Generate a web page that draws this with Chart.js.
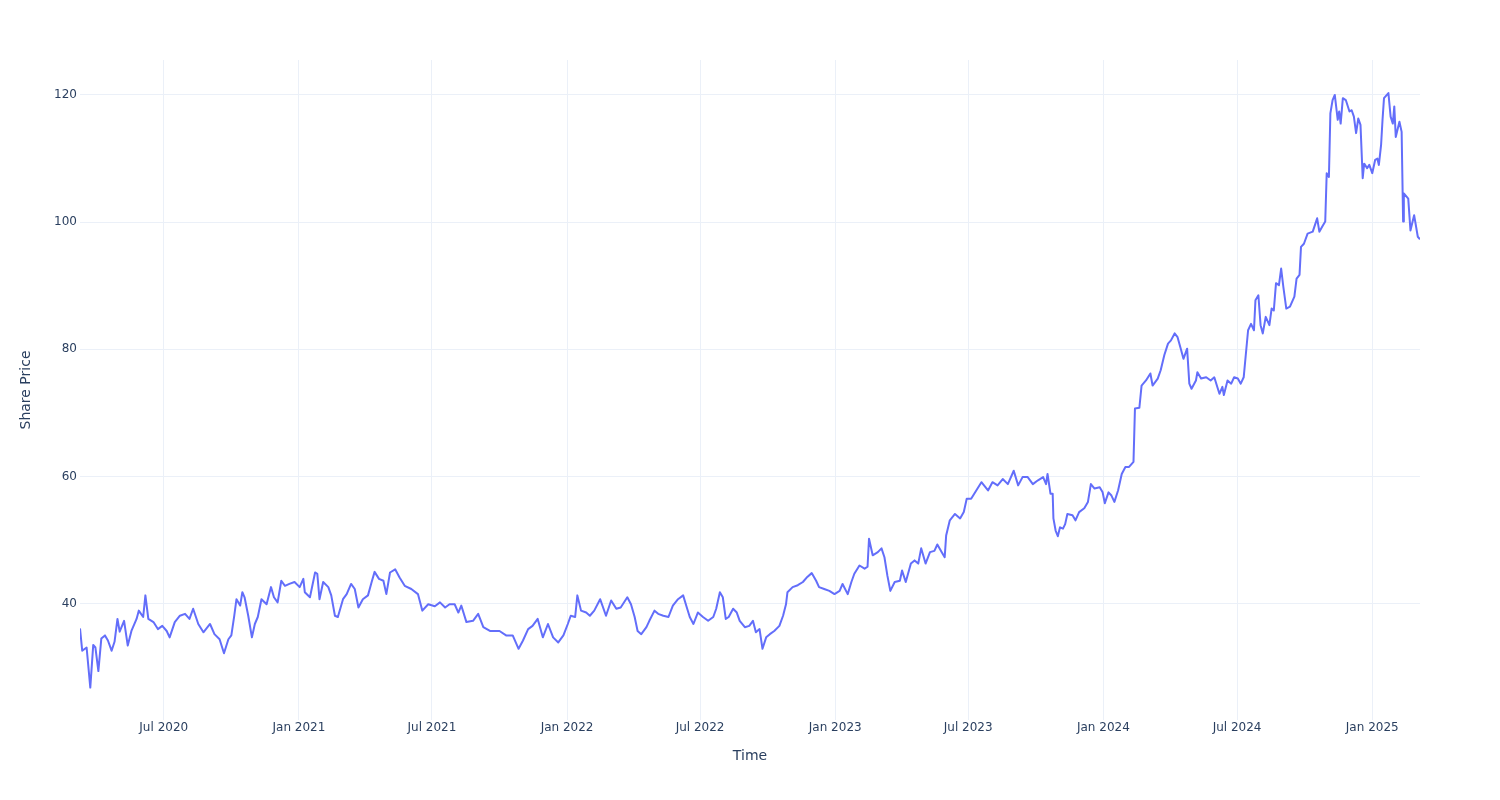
<!DOCTYPE html>
<html>
<head>
<meta charset="utf-8">
<title>Share Price</title>
<script src="https://cdn.jsdelivr.net/npm/chart.js@4.4.1/dist/chart.umd.min.js"></script>
<style>
  html, body { margin: 0; padding: 0; background: #fff; }
  #wrap { width: 1500px; height: 800px; }
</style>
</head>
<body>
<div id="wrap"><canvas id="priceChart" width="1500" height="800"></canvas></div>
<script>
// values
const dates = [
  '2020-03-09','2020-03-12','2020-03-18','2020-03-23','2020-03-27','2020-03-30','2020-04-03','2020-04-07','2020-04-12','2020-04-16',
  '2020-04-21','2020-04-25','2020-04-29','2020-05-02','2020-05-08','2020-05-13','2020-05-18','2020-05-25','2020-05-28','2020-06-03',
  '2020-06-06','2020-06-10','2020-06-17','2020-06-23','2020-06-29','2020-07-05','2020-07-09','2020-07-16','2020-07-23','2020-07-30',
  '2020-08-05','2020-08-10','2020-08-17','2020-08-24','2020-09-02','2020-09-08','2020-09-15','2020-09-21','2020-09-27','2020-10-01',
  '2020-10-05','2020-10-08','2020-10-13','2020-10-16','2020-10-19','2020-10-24','2020-10-29','2020-11-02','2020-11-06','2020-11-11',
  '2020-11-18','2020-11-24','2020-11-28','2020-12-03','2020-12-08','2020-12-13','2020-12-19','2020-12-26','2021-01-02','2021-01-07',
  '2021-01-09','2021-01-16','2021-01-23','2021-01-26','2021-01-29','2021-02-03','2021-02-10','2021-02-14','2021-02-19','2021-02-23',
  '2021-03-02','2021-03-07','2021-03-13','2021-03-18','2021-03-23','2021-03-29','2021-04-05','2021-04-10','2021-04-14','2021-04-20',
  '2021-04-26','2021-04-30','2021-05-05','2021-05-12','2021-05-18','2021-05-25','2021-06-03','2021-06-12','2021-06-18','2021-06-26',
  '2021-07-05','2021-07-12','2021-07-19','2021-07-25','2021-08-01','2021-08-06','2021-08-10','2021-08-17','2021-08-26','2021-09-02',
  '2021-09-09','2021-09-18','2021-09-25','2021-10-01','2021-10-10','2021-10-19','2021-10-27','2021-11-02','2021-11-09','2021-11-15',
  '2021-11-22','2021-11-29','2021-12-06','2021-12-13','2021-12-20','2021-12-27','2022-01-02','2022-01-06','2022-01-12','2022-01-15',
  '2022-01-20','2022-01-27','2022-02-01','2022-02-07','2022-02-15','2022-02-23','2022-03-02','2022-03-09','2022-03-15','2022-03-24',
  '2022-03-29','2022-04-03','2022-04-07','2022-04-12','2022-04-19','2022-04-23','2022-04-30','2022-05-05','2022-05-12','2022-05-19',
  '2022-05-25','2022-06-01','2022-06-08','2022-06-13','2022-06-17','2022-06-22','2022-06-28','2022-07-05','2022-07-12','2022-07-19',
  '2022-07-23','2022-07-28','2022-08-01','2022-08-05','2022-08-09','2022-08-15','2022-08-20','2022-08-24','2022-08-31','2022-09-06',
  '2022-09-11','2022-09-15','2022-09-20','2022-09-24','2022-09-29','2022-10-04','2022-10-10','2022-10-17','2022-10-22','2022-10-26',
  '2022-10-28','2022-11-04','2022-11-11','2022-11-18','2022-11-24','2022-11-30','2022-12-06','2022-12-10','2022-12-17','2022-12-24',
  '2022-12-31','2023-01-07','2023-01-11','2023-01-18','2023-01-23','2023-01-27','2023-02-03','2023-02-10','2023-02-14','2023-02-16',
  '2023-02-21','2023-02-28','2023-03-05','2023-03-09','2023-03-13','2023-03-17','2023-03-23','2023-03-30','2023-04-02','2023-04-07',
  '2023-04-14','2023-04-19','2023-04-24','2023-04-28','2023-05-04','2023-05-10','2023-05-16','2023-05-20','2023-05-26','2023-05-30',
  '2023-06-01','2023-06-06','2023-06-13','2023-06-20','2023-06-25','2023-06-29','2023-07-05','2023-07-12','2023-07-19','2023-07-28',
  '2023-08-03','2023-08-10','2023-08-17','2023-08-24','2023-09-01','2023-09-07','2023-09-13','2023-09-20','2023-09-27','2023-10-04',
  '2023-10-11','2023-10-15','2023-10-17','2023-10-21','2023-10-24','2023-10-25','2023-10-28','2023-10-31','2023-11-03','2023-11-07',
  '2023-11-10','2023-11-13','2023-11-20','2023-11-24','2023-11-29','2023-12-06','2023-12-11','2023-12-15','2023-12-20','2023-12-27',
  '2023-12-31','2024-01-03','2024-01-08','2024-01-12','2024-01-16','2024-01-21','2024-01-26','2024-01-31','2024-02-05','2024-02-11',
  '2024-02-13','2024-02-19','2024-02-22','2024-02-28','2024-03-05','2024-03-08','2024-03-15','2024-03-19','2024-03-24','2024-03-29',
  '2024-04-02','2024-04-07','2024-04-11','2024-04-16','2024-04-19','2024-04-24','2024-04-27','2024-04-30','2024-05-06','2024-05-08',
  '2024-05-13','2024-05-20','2024-05-26','2024-05-31','2024-06-04','2024-06-07','2024-06-11','2024-06-13','2024-06-18','2024-06-23',
  '2024-06-27','2024-07-02','2024-07-06','2024-07-10','2024-07-13','2024-07-16','2024-07-20','2024-07-24','2024-07-26','2024-07-30',
  '2024-08-02','2024-08-05','2024-08-09','2024-08-14','2024-08-17','2024-08-20','2024-08-23','2024-08-27','2024-08-30','2024-09-02',
  '2024-09-06','2024-09-11','2024-09-17','2024-09-20','2024-09-24','2024-09-26','2024-09-30','2024-10-05','2024-10-12','2024-10-18',
  '2024-10-21','2024-10-25','2024-10-29','2024-10-31','2024-11-03','2024-11-05','2024-11-08','2024-11-11','2024-11-15','2024-11-17',
  '2024-11-19','2024-11-22','2024-11-26','2024-12-01','2024-12-04','2024-12-07','2024-12-10','2024-12-13','2024-12-16','2024-12-19',
  '2024-12-21','2024-12-25','2024-12-28','2025-01-01','2025-01-05','2025-01-08','2025-01-10','2025-01-13','2025-01-15','2025-01-17',
  '2025-01-23','2025-01-26','2025-01-29','2025-01-31','2025-02-02','2025-02-07','2025-02-10','2025-02-12','2025-02-13','2025-02-19',
  '2025-02-22','2025-02-27','2025-03-04','2025-03-07'
];

const prices = [
  36.1, 32.6, 33.1, 26.8, 33.5, 33.1, 29.4, 34.5, 35.0, 34.2,
  32.6, 34.0, 37.6, 35.6, 37.3, 33.4, 35.7, 37.6, 38.9, 37.9,
  41.3, 37.6, 37.1, 36.0, 36.5, 35.7, 34.7, 37.1, 38.1, 38.4,
  37.6, 39.2, 36.8, 35.5, 36.8, 35.2, 34.4, 32.2, 34.4, 35.0,
  38.1, 40.7, 39.7, 41.8, 41.0, 38.1, 34.7, 36.8, 37.9, 40.7,
  39.9, 42.6, 41.0, 40.2, 43.6, 42.8, 43.1, 43.4, 42.6, 43.9,
  41.8, 41.0, 44.9, 44.7, 40.7, 43.4, 42.6, 41.3, 38.1, 37.9,
  40.7, 41.5, 43.1, 42.3, 39.4, 40.7, 41.3, 43.4, 45.0, 43.9,
  43.6, 41.5, 44.9, 45.4, 44.1, 42.8, 42.3, 41.5, 38.9, 39.9,
  39.6, 40.2, 39.4, 39.9, 39.9, 38.6, 39.7, 37.1, 37.3, 38.4,
  36.3, 35.7, 35.7, 35.7, 35.0, 35.0, 32.9, 34.2, 36.0, 36.5,
  37.6, 34.7, 36.8, 34.7, 33.9, 35.0, 36.8, 38.1, 37.9, 41.3,
  38.9, 38.6, 38.1, 38.9, 40.7, 38.1, 40.5, 39.2, 39.4, 41.0,
  39.9, 37.9, 35.7, 35.2, 36.3, 37.3, 38.9, 38.4, 38.1, 37.9,
  39.7, 40.7, 41.3, 39.4, 37.9, 36.8, 38.6, 37.9, 37.3, 37.9,
  39.2, 41.8, 41.0, 37.6, 37.9, 39.2, 38.6, 37.3, 36.3, 36.5,
  37.3, 35.5, 36.0, 32.9, 34.7, 35.2, 35.7, 36.5, 38.1, 39.9,
  41.8, 42.6, 42.9, 43.4, 44.2, 44.8, 43.6, 42.6, 42.3, 42.0,
  41.5, 42.0, 43.1, 41.5, 43.4, 44.7, 46.0, 45.5, 45.8, 50.2,
  47.6, 48.1, 48.7, 47.3, 44.4, 42.0, 43.4, 43.6, 45.2, 43.4,
  46.3, 46.8, 46.3, 48.7, 46.3, 48.1, 48.3, 49.3, 48.1, 47.3,
  50.7, 53.1, 54.1, 53.4, 54.4, 56.5, 56.5, 57.8, 59.1, 57.8,
  59.1, 58.6, 59.6, 58.8, 60.9, 58.6, 59.9, 59.9, 58.8, 59.4,
  59.9, 58.8, 60.4, 57.3, 57.3, 53.4, 51.5, 50.6, 52.0, 51.8,
  52.5, 54.1, 53.9, 53.1, 54.4, 55.0, 56.0, 58.8, 58.1, 58.3,
  57.5, 55.8, 57.5, 57.0, 56.0, 57.8, 60.4, 61.5, 61.5, 62.3,
  70.7, 70.8, 74.3, 75.1, 76.2, 74.3, 75.4, 76.7, 79.1, 80.9,
  81.4, 82.5, 81.9, 79.8, 78.5, 80.1, 74.6, 73.8, 75.1, 76.4,
  75.4, 75.6, 75.1, 75.6, 74.1, 73.0, 74.1, 72.8, 75.1, 74.6,
  75.6, 75.4, 74.6, 75.6, 79.3, 83.0, 84.0, 83.0, 87.7, 88.5,
  83.8, 82.5, 85.1, 83.8, 86.4, 86.1, 90.4, 90.1, 92.7, 89.8,
  86.4, 86.7, 88.3, 91.1, 91.7, 96.1, 96.6, 98.2, 98.5, 100.6,
  98.5, 99.3, 100.1, 107.7, 107.1, 117.1, 119.2, 120.0, 116.1, 117.4,
  115.5, 119.5, 119.2, 117.4, 117.6, 116.6, 114.0, 116.3, 115.3, 106.9,
  109.2, 108.5, 109.0, 107.7, 109.8, 110.0, 109.0, 112.1, 116.1, 119.5,
  120.3, 116.6, 115.5, 118.2, 113.4, 115.8, 114.2, 100.1, 104.5, 103.7,
  98.7, 101.1, 97.7, 97.3
];

const xTickDates = ['2020-07-01','2021-01-01','2021-07-01','2022-01-01','2022-07-01','2023-01-01','2023-07-01','2024-01-01','2024-07-01','2025-01-01'];
const xTickLabels = ['Jul 2020','Jan 2021','Jul 2021','Jan 2022','Jul 2022','Jan 2023','Jul 2023','Jan 2024','Jul 2024','Jan 2025'];
const yTicks = [40, 60, 80, 100, 120];

const points = dates.map((d, i) => ({ x: Date.parse(d), y: prices[i] }));

const fontFamily = '"DejaVu Sans", Verdana, sans-serif';
const textColor = '#2a3f5f';
const gridColor = '#ebf0f8';

new Chart(document.getElementById('priceChart'), {
    type: 'line',
    data: {
        datasets: [{
            label: 'Share Price',
            data: points,
            borderColor: '#636efa',
            borderWidth: 2,
            pointRadius: 0,
            tension: 0,
            fill: false,
            borderJoinStyle: 'round'
        }]
    },
    options: {
        responsive: false,
        animation: false,
        devicePixelRatio: 1,
        layout: { padding: { top: 60, right: 80, bottom: 0, left: 0 } },
        plugins: {
            legend: { display: false },
            tooltip: { enabled: false }
        },
        scales: {
            x: {
                type: 'linear',
                min: Date.parse(dates[0]),
                max: Date.parse(dates[dates.length - 1]),
                afterBuildTicks: scale => {
                    scale.ticks = xTickDates.map(d => ({ value: Date.parse(d) }));
                },
                afterFit: scale => { scale.height = 80; },
                grid: { color: gridColor, drawTicks: false },
                border: { display: false },
                ticks: {
                    autoSkip: false,
                    maxRotation: 0,
                    padding: 1,
                    color: textColor,
                    font: { family: fontFamily, size: 12 },
                    callback: (value, index) => xTickLabels[index]
                },
                title: {
                    display: true,
                    text: 'Time',
                    color: textColor,
                    font: { family: fontFamily, size: 14 },
                    padding: { top: 0, bottom: 35 }
                }
            },
            y: {
                min: 21.7,
                max: 125.5,
                afterBuildTicks: scale => {
                    scale.ticks = yTicks.map(v => ({ value: v }));
                },
                afterFit: scale => { scale.width = 80; },
                grid: { color: gridColor, drawTicks: false },
                border: { display: false },
                ticks: {
                    padding: 3,
                    color: textColor,
                    font: { family: fontFamily, size: 12 }
                },
                title: {
                    display: true,
                    text: 'Share Price',
                    color: textColor,
                    font: { family: fontFamily, size: 14 },
                    padding: { top: 18, bottom: 0 }
                }
            }
        }
    }
});
</script>
</body>
</html>
